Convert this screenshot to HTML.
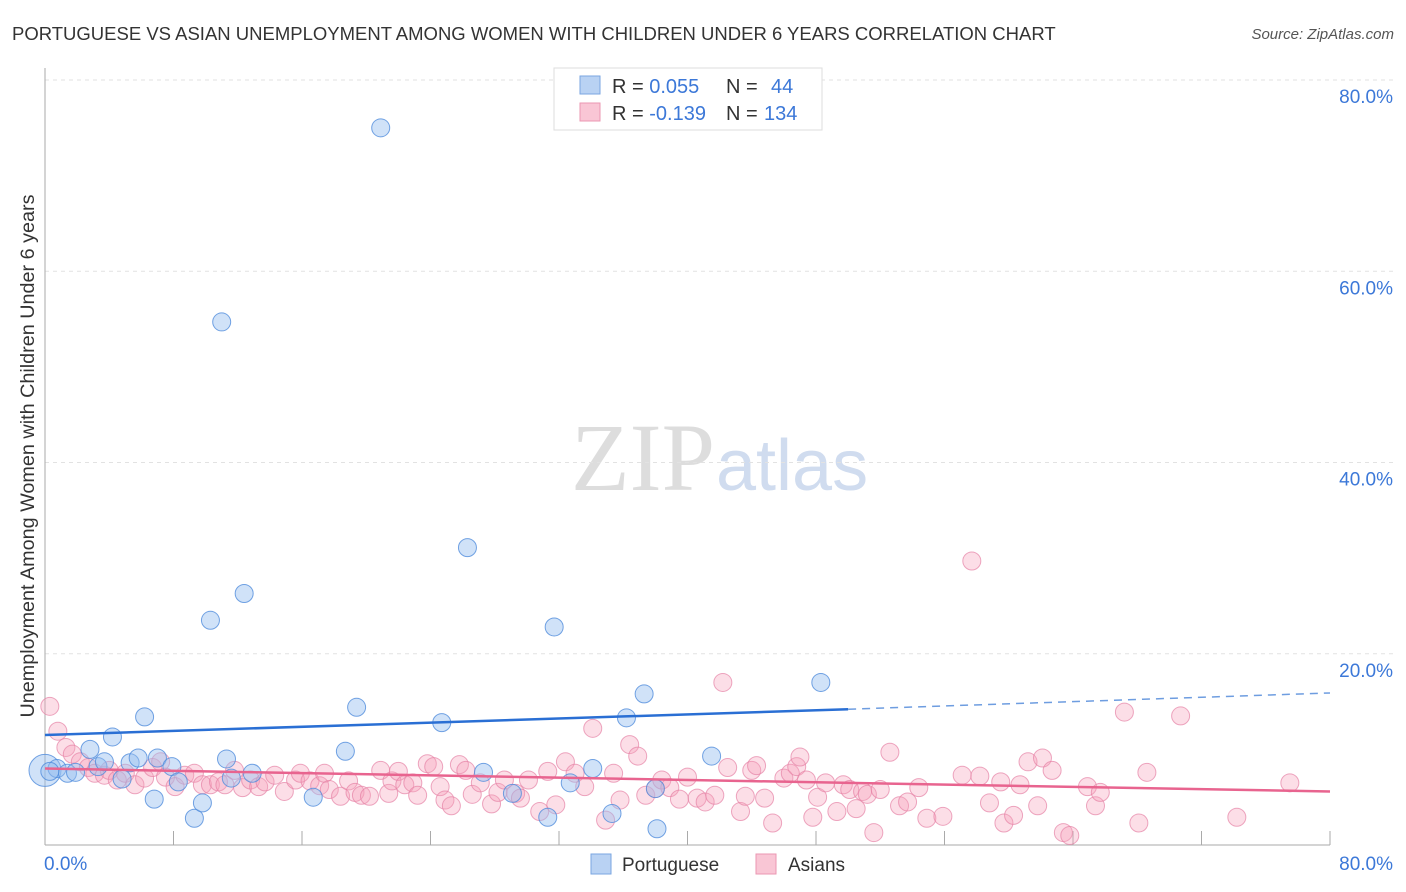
<!DOCTYPE html>
<html><head><meta charset="utf-8"><style>
body{margin:0;background:#fff;font-family:"Liberation Sans",sans-serif;}
svg{display:block}
</style></head><body>
<svg id="chart" width="1406" height="892">
<text x="12" y="40" font-size="18.5" fill="#333">PORTUGUESE VS ASIAN UNEMPLOYMENT AMONG WOMEN WITH CHILDREN UNDER 6 YEARS CORRELATION CHART</text>
<text x="1394" y="39" font-size="15" fill="#555" font-style="italic" text-anchor="end">Source: ZipAtlas.com</text>
<text x="715" y="490" font-size="96" fill="#ddd" text-anchor="end" font-family="Liberation Serif">ZIP</text>
<text x="716" y="490" font-size="72" fill="#d0dcef">atlas</text>
<g id="grid"></g>
<g id="axes"></g>
<text transform="translate(34,456) rotate(-90)" font-size="19.8" fill="#333" text-anchor="middle">Unemployment Among Women with Children Under 6 years</text>
<g id="marks"></g>
<g>
<rect x="554" y="68" width="268" height="62" fill="#fff" stroke="#ddd"/>
<rect x="580" y="76" width="20" height="18" fill="#b9d2f3" stroke="#7aa6e0"/>
<rect x="580" y="103" width="20" height="18" fill="#f9c6d5" stroke="#eb97b2"/>
<text x="612" y="93" font-size="20" fill="#333">R = <tspan fill="#3c78d8">0.055</tspan><tspan x="726">N = </tspan><tspan fill="#3c78d8" x="771">44</tspan></text>
<text x="612" y="120" font-size="20" fill="#333">R = <tspan fill="#3c78d8">-0.139</tspan><tspan x="726">N = </tspan><tspan fill="#3c78d8" x="764">134</tspan></text>
</g>
<g>
<rect x="591" y="854" width="20" height="20" fill="#b9d2f3" stroke="#7aa6e0"/>
<text x="622" y="871" font-size="19" fill="#333">Portuguese</text>
<rect x="756" y="854" width="20" height="20" fill="#f9c6d5" stroke="#eb97b2"/>
<text x="788" y="871" font-size="19" fill="#333">Asians</text>
</g>
</svg>
<script>
const yTicks=[20,40,60,80];
const yTickLabels=["20.0%","40.0%","60.0%","80.0%"];
const blueX=[0,0.75,1.4,1.9,2.8,3.3,3.7,4.2,4.8,5.3,5.8,6.2,6.8,7.0,7.9,8.3,9.3,9.8,10.3,11.0,11.3,11.6,12.4,12.9,16.7,18.7,19.4,20.9,24.7,26.3,27.3,29.1,31.3,31.7,32.7,34.1,35.3,36.2,37.3,38.0,38.1,41.5,48.3,0.3];
const blueY=[7.8,8.0,7.5,7.6,10.0,8.2,8.7,11.3,6.9,8.6,9.1,13.4,4.8,9.1,8.2,6.6,2.8,4.4,23.5,54.7,9.0,7.0,26.3,7.5,5.0,9.8,14.4,75.0,12.8,31.1,7.6,5.4,2.9,22.8,6.5,8.0,3.3,13.3,15.8,5.9,1.7,9.3,17.0,7.7];
const pinkX=[0.3,0.8,1.3,1.7,2.2,2.7,3.1,3.7,4.0,4.5,5.0,5.6,6.2,6.7,7.2,7.5,8.1,8.7,9.3,9.8,10.3,10.8,11.2,11.8,12.3,12.8,13.3,13.7,14.3,14.9,15.6,15.9,16.5,17.1,17.4,17.7,18.4,18.9,19.3,19.7,20.2,20.9,21.4,21.6,22.0,22.4,22.9,23.2,23.8,24.2,24.6,24.9,25.3,25.8,26.2,26.6,27.1,27.8,28.2,28.6,29.3,29.6,30.1,30.8,31.3,31.8,32.4,33.0,33.6,34.1,34.9,35.4,35.8,36.4,36.9,37.4,38.0,38.4,38.9,39.5,40.0,40.6,41.1,41.7,42.2,42.5,43.3,43.6,44.0,44.3,44.8,45.3,46.0,46.4,46.8,47.0,47.4,47.8,48.1,48.6,49.3,49.7,50.1,50.5,50.9,51.2,51.6,52.0,52.6,53.2,53.7,54.4,54.9,55.9,57.1,57.7,58.2,58.8,59.5,59.7,60.3,60.7,61.2,61.8,62.1,62.7,63.4,63.8,64.9,65.4,65.7,67.2,68.1,68.6,70.7,74.2,77.5];
const pinkY=[14.5,11.9,10.2,9.5,8.7,8.1,7.5,7.3,7.8,6.8,7.5,6.3,7.0,8.1,8.7,7.1,6.1,7.3,7.5,6.3,6.3,6.6,6.3,7.8,6.0,6.8,6.1,6.6,7.3,5.6,6.8,7.5,6.7,6.2,7.5,5.8,5.1,6.7,5.5,5.2,5.1,7.8,5.4,6.7,7.7,6.3,6.5,5.2,8.5,8.2,6.1,4.7,4.1,8.4,7.8,5.3,6.5,4.3,5.5,6.8,5.4,4.9,6.8,3.5,7.7,4.2,8.7,7.5,6.1,12.2,2.6,7.5,4.7,10.5,9.3,5.2,5.9,6.8,6.0,4.8,7.1,4.9,4.5,5.2,17.0,8.1,3.5,5.1,7.8,8.3,4.9,2.3,7.0,7.5,8.2,9.2,6.8,2.9,5.0,6.5,3.5,6.3,5.8,3.8,5.6,5.3,1.3,5.8,9.7,4.1,4.5,6.0,2.8,3.0,7.3,29.7,7.2,4.4,6.6,2.3,3.1,6.3,8.7,4.1,9.1,7.8,1.3,1.0,6.1,4.1,5.5,13.9,2.3,7.6,13.5,2.9,6.5];
const blueTrend=[[0,11.5],[50,14.2]], blueDash=[[50,14.2],[80,15.9]];
const pinkTrend=[[0,8.0],[80,5.6]];
const X0=45,X1=1330,Y0=845,Y1=80;
const xs=v=>X0+(v/80)*(X1-X0), ys=v=>Y0-(v/80)*(Y0-Y1);
const NS="http://www.w3.org/2000/svg";
function mk(t,a,p){const e=document.createElementNS(NS,t);for(const k in a)e.setAttribute(k,a[k]);p.appendChild(e);return e;}
const grid=document.getElementById('grid'),axes=document.getElementById('axes'),marks=document.getElementById('marks');
yTicks.forEach((t,i)=>{
 const l=mk('line',{x1:X0,x2:1395,y1:ys(t),y2:ys(t),stroke:'#e2e2e2','stroke-dasharray':'4,4'},grid);
 
 
 const tx=mk('text',{x:1393,y:ys(t)+23,'font-size':19,fill:'#3c78d8','text-anchor':'end'},axes);
 tx.textContent=yTickLabels[i];
 
 
});
const ax=mk('line',{x1:X0,x2:X0,y1:68,y2:Y0,stroke:'#aaa'},axes);


const bx=mk('line',{x1:X0,x2:X1,y1:Y0,y2:Y0,stroke:'#aaa'},axes);


for(let i=1;i<=10;i++){const x=X0+i*(X1-X0)/10;const t=mk('line',{x1:x,x2:x,y1:Y0,y2:Y0-14,stroke:'#aaa'},axes);
 
 }
const xl=mk('text',{x:44,y:870,'font-size':19,fill:'#3c78d8'},axes);xl.textContent='0.0%';


const xr=mk('text',{x:1393,y:870,'font-size':19,fill:'#3c78d8','text-anchor':'end'},axes);xr.textContent='80.0%';


pinkX.forEach((x,i)=>{const c=mk('circle',{cx:xs(x),cy:ys(pinkY[i]),r:9,fill:'rgba(245,160,185,0.35)',stroke:'rgba(230,130,165,0.7)'},marks);
 
 });
blueX.forEach((x,i)=>{const c=mk('circle',{cx:xs(x),cy:ys(blueY[i]),r:i==0?16:9,fill:'rgba(150,190,240,0.45)',stroke:'rgba(80,140,220,0.8)'},marks);
 
 });
const bl=mk('line',{x1:xs(blueTrend[0][0]),y1:ys(blueTrend[0][1]),x2:xs(blueTrend[1][0]),y2:ys(blueTrend[1][1]),stroke:'#2a6fd4','stroke-width':2.5},marks);


const bd=mk('line',{x1:xs(blueDash[0][0]),y1:ys(blueDash[0][1]),x2:xs(blueDash[1][0]),y2:ys(blueDash[1][1]),stroke:'#6e9de0','stroke-width':1.5,'stroke-dasharray':'8,6'},marks);


const pl=mk('line',{x1:xs(pinkTrend[0][0]),y1:ys(pinkTrend[0][1]),x2:xs(pinkTrend[1][0]),y2:ys(pinkTrend[1][1]),stroke:'#e8648f','stroke-width':2.5},marks);


</script>
</body></html>
